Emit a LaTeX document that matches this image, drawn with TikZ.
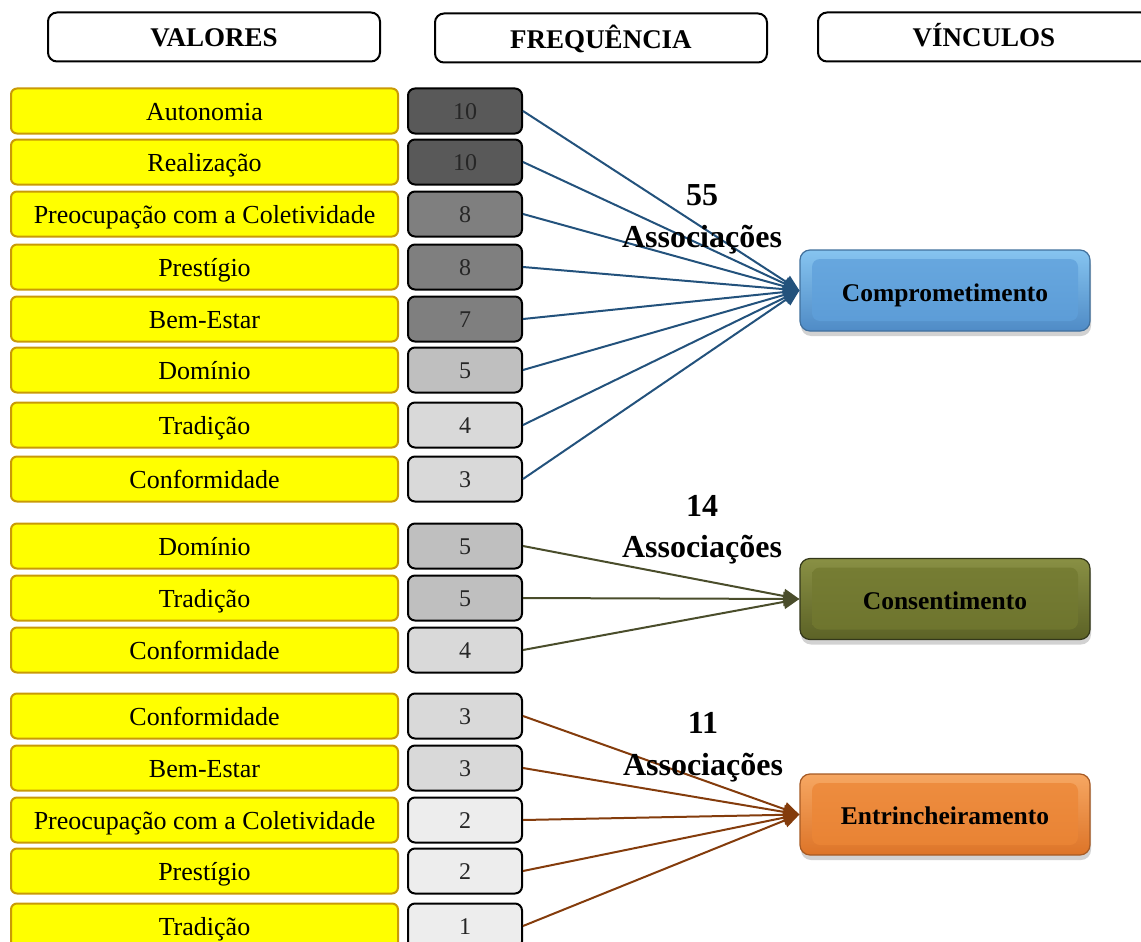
\documentclass[tikz,border=0pt]{standalone}
\usepackage{fontspec}
\setmainfont{Liberation Serif}
\usetikzlibrary{arrows.meta,shadows}

\definecolor{valfill}{HTML}{FFFF00}
\definecolor{valdraw}{HTML}{C99A06}
\definecolor{fA}{HTML}{595959}
\definecolor{fB}{HTML}{7F7F7F}
\definecolor{fC}{HTML}{BFBFBF}
\definecolor{fD}{HTML}{D9D9D9}
\definecolor{fE}{HTML}{EDEDED}
\definecolor{numtext}{HTML}{262626}
\definecolor{lnblue}{HTML}{23527C}
\definecolor{lnolive}{HTML}{4A4D2B}
\definecolor{lnbrown}{HTML}{843C0C}
\definecolor{compTop}{HTML}{86C4F0}
\definecolor{compMid}{HTML}{5E9FDA}
\definecolor{compBot}{HTML}{4F8BC6}
\definecolor{compDraw}{HTML}{41709C}
\definecolor{consTop}{HTML}{899044}
\definecolor{consMid}{HTML}{71782F}
\definecolor{consBot}{HTML}{5C6226}
\definecolor{consDraw}{HTML}{33371A}
\definecolor{entrTop}{HTML}{F6A762}
\definecolor{entrMid}{HTML}{EB8535}
\definecolor{entrBot}{HTML}{DD7428}
\definecolor{entrDraw}{HTML}{A65A24}

\begin{document}
\begin{tikzpicture}[x=1pt,y=-1pt,
  headbox/.style={draw=black, line width=2pt, rounded corners=9pt,
    minimum width=332pt, minimum height=49pt, inner sep=0pt,
    text height=24pt, text depth=5pt,
    font=\bfseries\fontsize{27}{30}\selectfont},
  valbox/.style={draw=valdraw, line width=2pt, fill=valfill, rounded corners=6pt,
    minimum width=387pt, minimum height=45pt, inner sep=0pt,
    text height=23pt, text depth=5pt,
    font=\fontsize{26}{30}\selectfont},
  freqbox/.style={draw=black, line width=2pt, rounded corners=7pt,
    minimum width=114pt, minimum height=45pt, inner sep=0pt,
    text height=21pt, text depth=5pt,
    text=numtext, font=\fontsize{24}{28}\selectfont},
  % bevelled button: gradient rim, softer inner face
  linkbox/.style n args={4}{rounded corners=10pt, line width=1.2pt,
    draw=#4, top color=#1, bottom color=#3,
    minimum width=290pt, minimum height=81pt, inner sep=0pt,
    text height=25pt, text depth=5pt,
    font=\bfseries\fontsize{25.5}{30}\selectfont,
    drop shadow={shadow xshift=1pt, shadow yshift=-5pt, opacity=0.25, fill=black!70},
    path picture={
      \shade[rounded corners=8pt, top color=#2!75!#1, bottom color=#2!80!#3]
        ([xshift=12pt,yshift=-9pt]path picture bounding box.north west)
        rectangle ([xshift=-12pt,yshift=10pt]path picture bounding box.south east);
    }},
  assoc/.style={anchor=base, inner sep=0pt, font=\bfseries\fontsize{32}{36}\selectfont},
  conn/.style={line width=2pt, -{Triangle[length=16pt,width=14pt]}}
]
\useasboundingbox (0,0) rectangle (1141,942);

% column headers
\node[headbox] (hval)  at (214,37) {VALORES};
\node[headbox, text depth=3pt] (hfreq) at (601,38) {FREQUÊNCIA};
\node[headbox] (hvinc) at (984,37) {VÍNCULOS};

% values and their frequencies, one row each
\foreach \i/\y/\txt/\num/\col in {
  1/111/Autonomia/10/fA,
  2/162/Realização/10/fA,
  3/214/Preocupação com a Coletividade/8/fB,
  4/267/Prestígio/8/fB,
  5/319/Bem-Estar/7/fB,
  6/370/Domínio/5/fC,
  7/425/Tradição/4/fD,
  8/479/Conformidade/3/fD,
  9/546/Domínio/5/fC,
  10/598/Tradição/5/fC,
  11/650/Conformidade/4/fD,
  12/716/Conformidade/3/fD,
  13/768/Bem-Estar/3/fD,
  14/820/Preocupação com a Coletividade/2/fE,
  15/871/Prestígio/2/fE,
  16/926/Tradição/1/fE}{
  \node[valbox] (v\i) at (204.5,\y) {\txt};
  \node[freqbox, fill=\col] (f\i) at (465,\y) {\num};
}

% bond types
\node[linkbox={compTop}{compMid}{compBot}{compDraw}, text height=26pt, text depth=4pt]
  (comp) at (945,290.5) {Comprometimento};
\node[linkbox={consTop}{consMid}{consBot}{consDraw}] (cons) at (945,599) {Consentimento};
\node[linkbox={entrTop}{entrMid}{entrBot}{entrDraw}] (entr) at (945,814.5) {Entrincheiramento};

% connectors
\foreach \i in {1,...,8} \draw[conn, lnblue] (f\i.east) -- (comp.west);
\foreach \i in {9,10,11} \draw[conn, lnolive] (f\i.east) -- (cons.west);
\foreach \i in {12,...,16} \draw[conn, lnbrown] (f\i.east) -- (entr.west);

% association counts
\node[assoc] (n1) at (702,205) {55};
\node[assoc] (a1) at (702,247) {Associações};
\node[assoc] (n2) at (702,516) {14};
\node[assoc] (a2) at (702,557) {Associações};
\node[assoc] (n3) at (703,733) {11};
\node[assoc] (a3) at (703,775) {Associações};
\end{tikzpicture}
\end{document}
